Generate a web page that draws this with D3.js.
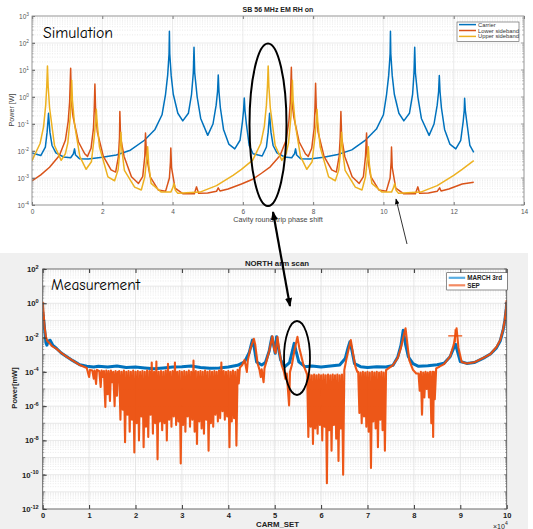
<!DOCTYPE html>
<html><head><meta charset="utf-8">
<script src="https://cdn.jsdelivr.net/npm/d3@7"></script>
<style>body{margin:0;background:#fff}svg{display:block}</style>
</head><body>
<svg id="c" width="533" height="529"></svg>
<script>
// ---------------- DATA: simulation (top) ----------------
const simTitle = "SB 56 MHz EM RH on";
const simXTicks = [0, 2, 4, 6, 8, 10, 12, 14];
const simYTicks = [1e-4, 1e-3, 1e-2, 1e-1, 1e0, 1e1, 1e2, 1e3];
const simLegend = ["Carrier", "Lower sideband", "Upper sideband"];

const carrier = [[0,8.5e-3],[0.25,6.8e-3],[0.38,1.4e-2],[0.43,5.0e-2],[0.46,0.16],[0.47,0.25],[0.48,0.16],[0.51,5.0e-2],[0.57,1.6e-2],[0.68,8.5e-3],[0.90,6.0e-3],[1.10,5.6e-3],[1.18,7.9e-3],[1.21,1.2e-2],[1.24,7.1e-3],[1.35,5.2e-3],[1.60,5.1e-3],[2.00,5.9e-3],[2.40,7.1e-3],[2.80,1.07e-2],[3.20,2.5e-2],[3.50,6.3e-2],[3.70,0.22],[3.80,1.26],[3.86,6.3],[3.90,40],[3.91,270],[3.92,40],[3.96,6.3],[4.02,1.26],[4.15,0.25],[4.29,0.13],[4.45,0.25],[4.54,1.26],[4.59,7.9],[4.61,69],[4.63,7.9],[4.70,1.0],[4.80,0.16],[5.00,3.8e-2],[5.15,0.10],[5.24,0.50],[5.28,1.6],[5.30,6.5],[5.32,1.6],[5.36,0.40],[5.45,6.3e-2],[5.60,1.8e-2],[5.77,1.2e-2],[5.92,2.5e-2],[5.99,0.126],[6.02,0.32],[6.04,0.91],[6.06,0.32],[6.10,0.10],[6.18,1.6e-2],[6.29,7.9e-3],
  [6.55,6.5e-3],[6.67,1.4e-2],[6.72,5.0e-2],[6.75,0.16],[6.76,0.25],[6.77,0.16],[6.80,5.0e-2],[6.86,1.6e-2],[6.97,8.5e-3],[7.19,6.0e-3],[7.39,5.6e-3],[7.47,7.9e-3],[7.50,1.2e-2],[7.53,7.1e-3],[7.64,5.2e-3],[7.90,5.1e-3],[8.30,5.9e-3],[8.70,7.4e-3],[9.10,1.1e-2],[9.50,2.6e-2],[9.80,6.5e-2],[10.00,0.22],[10.09,1.26],[10.15,6.3],[10.19,40],[10.20,270],[10.21,40],[10.25,6.3],[10.31,1.26],[10.44,0.25],[10.58,0.13],[10.74,0.25],[10.83,1.26],[10.87,7.9],[10.89,69],[10.91,7.9],[10.98,1.0],[11.08,0.16],[11.30,3.8e-2],[11.44,0.10],[11.53,0.50],[11.57,1.6],[11.59,6.3],[11.61,1.6],[11.65,0.40],[11.74,6.3e-2],[11.89,1.8e-2],[12.06,1.2e-2],[12.20,2.5e-2],[12.27,0.126],[12.30,0.32],[12.31,0.89],[12.33,0.32],[12.38,0.10],[12.46,1.6e-2],[12.57,8.9e-3]];

const lowerSB = [[0,7.8e-4],[0.25,1.3e-3],[0.50,2.5e-3],[0.78,6.8e-3],[0.95,2.5e-2],[1.03,0.126],[1.07,0.63],[1.10,11.5],[1.12,0.63],[1.17,0.18],[1.32,2.2e-2],[1.50,7.9e-3],[1.58,6.3e-3],[1.68,1.26e-2],[1.75,7.1e-2],[1.77,0.32],[1.79,3.0],[1.81,0.32],[1.86,5.0e-2],[2.03,6.3e-3],[2.25,2.0e-3],[2.38,1.66e-3],[2.46,6.3e-3],[2.49,3.2e-2],[2.50,0.29],[2.52,3.2e-2],[2.62,6.3e-3],[2.83,1.12e-3],[3.03,6.3e-4],[3.15,1.12e-3],[3.21,6.3e-3],[3.23,4.6e-2],[3.26,6.3e-3],[3.36,1.12e-3],[3.59,3.6e-4],[3.80,3.2e-4],[3.91,1.0e-3],[3.94,4.0e-3],[3.95,1.3e-2],[3.97,2.5e-3],[4.07,4.2e-4],[4.30,2.6e-4],[4.62,2.6e-4],[4.68,4.7e-4],[4.74,2.7e-4],[5.00,2.8e-4],[5.25,3.2e-4],[5.30,4.3e-4],[5.35,3.3e-4],[5.58,3.9e-4],[5.96,6.0e-4],[6.28,9.0e-4],
  [6.53,1.5e-3],[6.78,2.6e-3],[7.06,6.8e-3],[7.23,2.5e-2],[7.31,0.126],[7.35,0.63],[7.38,12.6],[7.40,0.63],[7.45,0.18],[7.60,2.2e-2],[7.78,7.9e-3],[7.86,6.3e-3],[7.96,1.26e-2],[8.03,7.1e-2],[8.05,0.32],[8.07,3.2],[8.09,0.32],[8.14,5.0e-2],[8.31,6.3e-3],[8.53,2.0e-3],[8.66,1.66e-3],[8.74,6.3e-3],[8.77,3.2e-2],[8.79,0.29],[8.81,3.2e-2],[8.90,6.3e-3],[9.11,1.12e-3],[9.31,6.3e-4],[9.43,1.12e-3],[9.49,6.3e-3],[9.52,4.6e-2],[9.54,6.3e-3],[9.64,1.12e-3],[9.87,3.6e-4],[10.08,3.2e-4],[10.19,1.0e-3],[10.22,4.0e-3],[10.23,1.4e-2],[10.25,2.5e-3],[10.35,4.2e-4],[10.58,2.6e-4],[10.91,2.6e-4],[10.98,4.7e-4],[11.03,2.7e-4],[11.28,2.8e-4],[11.53,3.2e-4],[11.60,4.3e-4],[11.64,3.3e-4],[11.86,3.9e-4],[12.24,6.0e-4],[12.57,7.0e-4]];

const upperSB = [[0,4.4e-3],[0.23,1.9e-2],[0.33,8.0e-2],[0.39,0.5],[0.42,2.5],[0.44,14],[0.46,2.5],[0.50,0.4],[0.64,1.6e-2],[0.83,4.5e-3],[0.95,7.9e-3],[1.02,2.0e-2],[1.09,0.2],[1.11,0.79],[1.13,4.2],[1.15,0.79],[1.21,0.1],[1.36,6.3e-3],[1.54,2.1e-3],[1.69,4.0e-3],[1.77,3.2e-2],[1.81,0.126],[1.83,0.35],[1.85,0.126],[1.92,1.4e-2],[2.16,1.1e-3],[2.35,7.9e-4],[2.45,2.0e-3],[2.50,1.0e-2],[2.53,5.0e-2],[2.56,1.0e-2],[2.63,1.9e-3],[2.92,4.6e-4],[3.11,3.6e-4],[3.21,1.1e-3],[3.26,5.0e-3],[3.29,1.45e-2],[3.32,3.2e-3],[3.39,6.3e-4],[3.68,3.0e-4],[3.95,3.0e-4],[4.01,4.5e-4],[4.04,6.3e-4],[4.08,3.5e-4],[4.15,2.7e-4],[4.78,3.0e-4],[5.25,5.2e-4],[5.72,1.26e-3],[5.96,2.1e-3],[6.28,4.6e-3],
  [6.51,1.9e-2],[6.61,8.0e-2],[6.67,0.5],[6.70,2.5],[6.72,14],[6.74,2.5],[6.78,0.4],[6.92,1.6e-2],[7.11,4.5e-3],[7.23,7.9e-3],[7.30,2.0e-2],[7.37,0.2],[7.39,0.79],[7.41,4.2],[7.43,0.79],[7.49,0.1],[7.64,6.3e-3],[7.82,2.1e-3],[7.97,4.0e-3],[8.05,3.2e-2],[8.09,0.126],[8.11,0.35],[8.13,0.126],[8.20,1.4e-2],[8.44,1.1e-3],[8.63,7.9e-4],[8.73,2.0e-3],[8.78,1.0e-2],[8.81,5.0e-2],[8.84,1.0e-2],[8.91,1.9e-3],[9.20,4.6e-4],[9.39,3.6e-4],[9.49,1.1e-3],[9.54,5.0e-3],[9.57,1.45e-2],[9.60,3.2e-3],[9.67,6.3e-4],[9.96,3.0e-4],[10.23,3.0e-4],[10.29,4.5e-4],[10.32,6.3e-4],[10.36,3.5e-4],[10.43,2.7e-4],[11.06,3.0e-4],[11.53,5.2e-4],[12.00,1.26e-3],[12.24,2.1e-3],[12.57,4.4e-3]];

// ---------------- DATA: measurement (bottom) ----------------
const measTitle = "NORTH arm scan";
const measXTicks = [0, 1, 2, 3, 4, 5, 6, 7, 8, 9, 10]; // x 10^4
const measYTicks = [1e-12, 1e-10, 1e-8, 1e-6, 1e-4, 1e-2, 1e0, 1e2];
const measLegend = ["MARCH 3rd", "SEP"];

const march3rd = [[0,0.32],[0.03,6.3e-2],[0.05,1.7e-2],[0.07,5.0e-3],[0.09,3.6e-3],[0.12,6.3e-3],[0.16,7.0e-3],[0.22,3.5e-3],[0.30,2.3e-3],[0.40,1.26e-3],[0.52,7.6e-4],[0.65,4.5e-4],[0.80,2.6e-4],[0.95,2.1e-4],[1.10,1.9e-4],[1.20,2.1e-4],[1.40,1.9e-4],[1.60,2.2e-4],[1.80,1.8e-4],[2.00,1.9e-4],[2.20,1.7e-4],[2.40,1.5e-4],[2.60,1.7e-4],[2.80,1.9e-4],[3.00,2.0e-4],[3.20,2.2e-4],[3.40,1.8e-4],[3.60,1.6e-4],[3.80,1.7e-4],[4.00,1.9e-4],[4.20,2.4e-4],[4.35,3.8e-4],[4.45,1.3e-3],[4.50,4.5e-3],[4.52,7.1e-3],[4.56,2.5e-3],[4.61,3.8e-4],[4.72,2.5e-4],[4.80,3.5e-4],[4.88,1.6e-3],[4.94,1.1e-2],[4.99,2.5e-3],[5.01,1.2e-3],[5.04,1.1e-2],[5.08,2.5e-3],[5.13,4.8e-4],[5.22,2.0e-4],[5.32,3.5e-4],[5.38,1.6e-3],[5.42,4.6e-3],[5.46,1.6e-3],[5.52,3.8e-4],[5.65,2.0e-4],[5.80,2.2e-4],[6.00,1.9e-4],[6.20,2.2e-4],[6.40,2.5e-4],[6.52,6.0e-4],[6.58,2.5e-3],[6.62,5.6e-3],[6.66,2.0e-3],[6.72,3.0e-4],[6.85,2.0e-4],[7.00,1.8e-4],[7.20,2.0e-4],[7.40,1.9e-4],[7.55,2.4e-4],[7.65,7.0e-4],[7.72,3.5e-3],[7.77,2.7e-2],[7.82,4.0e-3],[7.88,7.6e-4],[7.98,3.0e-4],[8.10,2.1e-4],[8.30,2.3e-4],[8.50,2.6e-4],[8.65,3.2e-4],[8.78,7.6e-4],[8.86,2.5e-3],[8.90,4.0e-3],[8.94,1.5e-3],[9.00,4.0e-4],[9.14,3.1e-4],[9.30,3.5e-4],[9.50,6.3e-4],[9.65,1.1e-3],[9.78,2.5e-3],[9.86,6.3e-3],[9.92,2.5e-2],[9.96,0.1],[9.99,0.5],[10.0,1.2]];

const sep = [[0,1.2],[0.02,0.25],[0.04,4.0e-2],[0.07,1.1e-2],[0.10,6.3e-3],[0.14,5.0e-3],[0.20,3.2e-3],[0.30,2.2e-3],[0.40,1.26e-3],[0.52,7.6e-4],[0.65,4.5e-4],[0.80,2.5e-4],[0.95,1.7e-4],
  [1.00,5.0e-5],[1.02,1.3e-4],[1.07,1.2e-4],[1.10,4.0e-5],[1.12,1.2e-4],[1.15,2.0e-5],[1.17,1.3e-4],[1.22,1.1e-4],[1.25,1.3e-5],[1.27,1.2e-4],[1.30,5.0e-5],[1.32,1.1e-4],[1.35,8.9e-7],[1.37,1.2e-4],[1.40,5.0e-6],[1.42,1.1e-4],[1.45,2.0e-6],[1.47,1.2e-4],[1.50,2.5e-5],[1.52,1.0e-4],[1.55,1.0e-6],[1.57,1.1e-4],[1.60,4.0e-6],[1.62,1.0e-4],
  [1.650,1.1e-4],[1.675,1.6e-7],[1.700,1.0e-4],[1.725,6.3e-7],[1.750,1.2e-4],[1.775,7.9e-9],[1.800,1.0e-4],[1.825,3.2e-7],[1.850,1.1e-4],[1.875,3.2e-8],[1.900,1.0e-4],[1.925,1.6e-7],[1.950,1.2e-4],[1.975,2.0e-9],[2.000,1.0e-4],[2.025,1.0e-7],[2.050,1.1e-4],[2.075,1.0e-8],[2.100,1.0e-4],[2.125,2.5e-7],[2.150,1.1e-4],[2.175,4.0e-9],[2.200,1.0e-4],[2.225,6.3e-8],[2.250,1.2e-4],[2.275,1.6e-8],[2.300,1.1e-4],[2.325,3.2e-7],[2.350,3.5e-4],[2.375,2.5e-8],[2.400,1.0e-4],[2.425,1.0e-7],[2.450,4.0e-4],[2.475,7.9e-10],[2.500,1.0e-4],[2.525,1.26e-7],[2.550,1.1e-4],[2.575,4.0e-8],[2.600,1.0e-4],[2.625,1.0e-7],[2.650,1.2e-4],[2.675,1.0e-8],[2.700,3.0e-4],[2.725,1.6e-7],[2.750,1.0e-4],[2.775,6.3e-8],[2.800,1.1e-4],[2.825,2.5e-7],[2.850,3.5e-4],[2.875,7.9e-8],[2.900,1.0e-4],[2.925,1.26e-7],[2.950,1.1e-4],[2.975,4.5e-10],[3.000,1.0e-4],[3.025,7.9e-8],[3.050,1.1e-4],[3.075,3.2e-8],[3.100,1.0e-4],[3.125,2.5e-7],[3.150,1.2e-4],[3.175,6.3e-8],[3.200,1.0e-4],[3.225,1.6e-7],[3.250,4.5e-4],[3.275,3.2e-8],[3.300,1.1e-4],[3.325,6.3e-9],[3.350,1.0e-4],[3.375,1.26e-7],[3.400,1.1e-4],[3.425,5.0e-8],[3.450,1.0e-4],[3.475,2.5e-8],[3.500,1.2e-4],[3.525,1.6e-7],[3.550,1.0e-4],[3.575,2.5e-9],[3.600,1.1e-4],[3.625,1.0e-7],[3.650,1.0e-4],[3.675,6.3e-8],[3.700,1.1e-4],[3.725,3.2e-7],[3.750,1.0e-4],[3.775,1.26e-7],[3.800,1.2e-4],[3.825,2.0e-7],[3.850,3.5e-4],[3.875,5.0e-7],[3.900,1.1e-4],[3.925,1.6e-7],[3.950,1.0e-4],[3.975,2.5e-7],[4.000,1.1e-4],[4.025,4.0e-9],[4.050,1.0e-4],[4.075,1.26e-7],[4.100,1.2e-4],[4.125,2.0e-7],[4.150,1.0e-4],[4.175,5.0e-9],[4.200,1.3e-4],[4.225,2.1e-5],[4.250,1.8e-4],
  [4.30,2.5e-4],[4.35,5.0e-4],[4.40,1.0e-4],[4.42,4.5e-4],[4.47,2.0e-3],[4.52,5.0e-3],[4.55,8.5e-3],[4.58,4.0e-3],[4.63,3.2e-4],[4.67,1.4e-4],[4.70,5.0e-5],[4.72,1.4e-4],[4.76,2.5e-5],[4.78,1.6e-4],[4.83,5.0e-4],[4.88,1.6e-3],[4.95,1.2e-2],[4.99,2.0e-3],[5.02,1.26e-3],[5.06,1.1e-2],[5.10,1.6e-3],[5.15,2.5e-4],[5.20,1.0e-4],[5.23,4.0e-5],[5.26,8.0e-5],[5.31,1.1e-6],[5.33,1.0e-4],[5.37,2.5e-4],[5.43,2.0e-3],[5.49,1.1e-2],[5.53,2.5e-3],[5.57,8.9e-4],[5.62,2.5e-4],[5.66,1.3e-4],
  [5.700,7.0e-5],[5.725,1.6e-8],[5.750,7.0e-5],[5.775,6.3e-8],[5.800,6.3e-5],[5.825,6.3e-9],[5.850,7.0e-5],[5.875,5.0e-8],[5.900,6.3e-5],[5.925,2.5e-8],[5.950,7.0e-5],[5.975,7.9e-8],[6.000,6.3e-5],[6.025,1.0e-8],[6.050,7.0e-5],[6.075,6.3e-8],[6.100,6.3e-5],[6.125,3.2e-11],[6.150,7.0e-5],[6.175,4.0e-8],[6.200,6.3e-5],[6.225,2.5e-9],[6.250,7.0e-5],[6.275,7.9e-8],[6.300,6.3e-5],[6.325,1.26e-8],[6.350,7.0e-5],[6.375,6.3e-10],[6.400,6.3e-5],[6.425,5.0e-8],[6.450,7.0e-5],[6.475,1.0e-10],[6.500,1.26e-4],
  [6.55,6.3e-4],[6.60,2.5e-3],[6.64,7.1e-3],[6.68,1.6e-3],[6.74,2.0e-4],[6.78,1.0e-4],
  [6.800,1.0e-4],[6.825,4.0e-7],[6.850,9.0e-5],[6.875,1.0e-7],[6.900,1.0e-4],[6.925,2.5e-7],[6.950,9.0e-5],[6.975,6.3e-8],[7.000,1.0e-4],[7.025,3.2e-8],[7.050,9.0e-5],[7.075,2.5e-10],[7.100,1.0e-4],[7.125,1.26e-7],[7.150,9.0e-5],[7.175,5.0e-8],[7.200,1.0e-4],[7.225,4.0e-9],[7.250,9.0e-5],[7.275,1.6e-7],[7.300,1.0e-4],[7.325,4.0e-8],[7.350,9.0e-5],[7.375,2.5e-9],[7.400,1.26e-4],
  [7.45,1.6e-4],[7.55,2.5e-4],[7.65,6.3e-4],[7.72,2.5e-3],[7.78,1.26e-2],[7.82,3.5e-2],[7.86,4.0e-3],[7.90,4.8e-4],[7.98,1.3e-4],[8.05,8.0e-5],
  [8.100,8.0e-5],[8.125,7.9e-6],[8.150,1.0e-4],[8.175,3.2e-7],[8.200,9.0e-5],[8.225,3.2e-6],[8.250,1.0e-4],[8.275,1.0e-5],[8.300,9.0e-5],[8.325,3.2e-6],[8.350,1.0e-4],[8.375,1.0e-7],[8.400,1.0e-4],[8.415,1.6e-8],[8.430,1.0e-4],[8.450,2.5e-6],[8.480,1.6e-4],
  [8.55,2.0e-4],[8.65,2.8e-4],[8.78,7.9e-4],[8.86,4.0e-3],[8.92,3.5e-2],[8.96,2.5e-3],[9.03,3.8e-4],[9.14,3.1e-4],[9.30,3.6e-4],[9.50,6.6e-4],[9.65,1.1e-3],[9.78,2.8e-3],[9.86,7.1e-3],[9.92,2.8e-2],[9.96,0.11],[9.99,0.63],[10.0,1.55]];

const sepMarker = [[8.89, 1.26e-2]];

// ---------------- DRAWING ----------------
const svg = d3.select("#c");
const FONT = "'Liberation Sans', Arial, Helvetica, sans-serif";
const COMIC = "'Comic Sans MS', 'Comic Neue', 'Noto Sans', sans-serif";
const C_BLUE = "#0072BD", C_RED = "#D95319", C_YEL = "#EDB120";
const C_SEP = "#EC4E0C";

function supLabels(g, size, supSize, weight, color) {
  g.selectAll(".tick text").each(function(d) {
    const t = d3.select(this);
    t.text("").attr("font-size", size).attr("font-weight", weight).attr("fill", color).attr("font-family", FONT);
    t.append("tspan").text("10");
    t.append("tspan").attr("dy", -0.45 * size).attr("font-size", supSize).text(String(Math.round(Math.log10(d))));
  });
}

function decadeList(lo, hi) {
  const out = [];
  for (let e = Math.round(Math.log10(lo)); e <= Math.round(Math.log10(hi)); e++) out.push(Math.pow(10, e));
  return out;
}

// ======== TOP: Simulation ========
(function() {
  const L = 32, R = 524, T = 16, B = 205;
  const x = d3.scaleLinear().domain([0, 14]).range([L, R]);
  const y = d3.scaleLog().domain([1e-4, 1e3]).range([B, T]);
  const g = svg.append("g");
  g.append("rect").attr("x", L).attr("y", T).attr("width", R - L).attr("height", B - T).attr("fill", "#fff");

  const decs = decadeList(1e-4, 1e3);
  decs.slice(0, -1).forEach(d => {
    for (let m = 2; m <= 9; m++) {
      g.append("line").attr("x1", L).attr("x2", R).attr("y1", y(m * d)).attr("y2", y(m * d))
        .attr("stroke", "#d4d4d4").attr("stroke-width", 0.5).attr("stroke-dasharray", "1,1.5");
    }
  });
  decs.forEach(d => g.append("line").attr("x1", L).attr("x2", R).attr("y1", y(d)).attr("y2", y(d))
    .attr("stroke", "#e2e2e2").attr("stroke-width", 0.7));
  simXTicks.forEach(t => g.append("line").attr("x1", x(t)).attr("x2", x(t)).attr("y1", T).attr("y2", B)
    .attr("stroke", "#e2e2e2").attr("stroke-width", 0.7));

  g.append("clipPath").attr("id", "clipTop").append("rect").attr("x", L).attr("y", T).attr("width", R - L).attr("height", B - T);
  const line = d3.line().x(d => x(d[0])).y(d => y(d[1]));
  const series = [[carrier, C_BLUE], [lowerSB, C_RED], [upperSB, C_YEL]];
  const lg = g.append("g").attr("clip-path", "url(#clipTop)");
  series.forEach(([data, col]) => lg.append("path").datum(data).attr("d", line)
    .attr("fill", "none").attr("stroke", col).attr("stroke-width", 1.5).attr("stroke-linejoin", "round"));

  const ax = g.append("g").attr("transform", `translate(0,${B})`)
    .call(d3.axisBottom(x).tickValues(simXTicks).tickSizeInner(-3).tickSizeOuter(0).tickPadding(4));
  ax.select(".domain").remove();
  ax.selectAll(".tick line").attr("stroke", "#777");
  ax.selectAll(".tick text").attr("font-size", 6.5).attr("font-family", FONT).attr("fill", "#555");
  const axT = g.append("g").attr("transform", `translate(0,${T})`)
    .call(d3.axisTop(x).tickValues(simXTicks).tickSizeInner(-3).tickSizeOuter(0).tickFormat(""));
  axT.select(".domain").remove(); axT.selectAll(".tick line").attr("stroke", "#777");

  const ay = g.append("g").attr("transform", `translate(${L},0)`)
    .call(d3.axisLeft(y).tickValues(simYTicks).tickSizeInner(-3).tickSizeOuter(0).tickPadding(3));
  ay.select(".domain").remove(); ay.selectAll(".tick line").attr("stroke", "#777");
  supLabels(ay, 6.5, 4.8, "normal", "#555");
  decs.slice(0, -1).forEach(d => {
    for (let m = 2; m <= 9; m++) {
      [[L, L + 1.8], [R, R - 1.8]].forEach(([a, b]) => g.append("line").attr("x1", a).attr("x2", b)
        .attr("y1", y(m * d)).attr("y2", y(m * d)).attr("stroke", "#888").attr("stroke-width", 0.5));
    }
    [[L, L + 3], [R, R - 3]].forEach(([a, b]) => g.append("line").attr("x1", a).attr("x2", b)
      .attr("y1", y(d)).attr("y2", y(d)).attr("stroke", "#777").attr("stroke-width", 0.6));
  });
  g.append("rect").attr("x", L).attr("y", T).attr("width", R - L).attr("height", B - T)
    .attr("fill", "none").attr("stroke", "#8a8a8a").attr("stroke-width", 0.8);

  g.append("text").attr("x", 278).attr("y", 12).attr("text-anchor", "middle").attr("font-family", FONT)
    .attr("font-size", 7).attr("font-weight", "bold").attr("fill", "#222").text(simTitle);
  g.append("text").attr("x", 278).attr("y", 221.5).attr("text-anchor", "middle").attr("font-family", FONT)
    .attr("font-size", 7.2).attr("fill", "#444").text("Cavity round-trip phase shift");
  g.append("text").attr("transform", "translate(13.5,110) rotate(-90)").attr("text-anchor", "middle")
    .attr("font-family", FONT).attr("font-size", 7.2).attr("fill", "#444").text("Power [W]");
  g.append("text").attr("x", 43).attr("y", 38).attr("font-family", COMIC).attr("font-size", 15)
    .attr("textLength", 70).attr("lengthAdjust", "spacingAndGlyphs").attr("fill", "#000").text("Simulation");

  const lx = 457, ly = 22;
  g.append("rect").attr("x", lx).attr("y", ly).attr("width", 62).attr("height", 19.5)
    .attr("fill", "#fff").attr("stroke", "#555").attr("stroke-width", 0.6);
  const cols = [C_BLUE, C_RED, C_YEL];
  simLegend.forEach((s, i) => {
    const yy = 24.6 + i * 5.9;
    g.append("line").attr("x1", lx + 2).attr("x2", lx + 19).attr("y1", yy).attr("y2", yy)
      .attr("stroke", cols[i]).attr("stroke-width", 1.5);
    g.append("text").attr("x", lx + 21).attr("y", yy + 2).attr("font-family", FONT).attr("font-size", 5.8)
      .attr("fill", "#333").text(s);
  });
})();

// ======== BOTTOM: Measurement ========
(function() {
  const L = 42.7, R = 506.7, T = 269, B = 509;
  const x = d3.scaleLinear().domain([0, 10]).range([L, R]);
  const y = d3.scaleLog().domain([1e-12, 1e2]).range([B, T]);
  const g = svg.append("g");
  g.append("rect").attr("x", 0).attr("y", 253).attr("width", 528).attr("height", 276).attr("fill", "#f0f0f0");
  g.append("rect").attr("x", L).attr("y", T).attr("width", R - L).attr("height", B - T).attr("fill", "#fff");

  const decs = decadeList(1e-12, 1e2);
  decs.slice(0, -1).forEach(d => {
    for (let m = 2; m <= 9; m++) {
      g.append("line").attr("x1", L).attr("x2", R).attr("y1", y(m * d)).attr("y2", y(m * d))
        .attr("stroke", "#d6d6d6").attr("stroke-width", 0.5).attr("stroke-dasharray", "1,1.5");
    }
  });
  decs.forEach(d => g.append("line").attr("x1", L).attr("x2", R).attr("y1", y(d)).attr("y2", y(d))
    .attr("stroke", "#dedede").attr("stroke-width", 0.7));
  measXTicks.forEach(t => g.append("line").attr("x1", x(t)).attr("x2", x(t)).attr("y1", T).attr("y2", B)
    .attr("stroke", "#dedede").attr("stroke-width", 0.7));

  g.append("clipPath").attr("id", "clipBot").append("rect").attr("x", L).attr("y", T).attr("width", R - L).attr("height", B - T);
  const line = d3.line().x(d => x(d[0])).y(d => y(d[1]));
  const lg = g.append("g").attr("clip-path", "url(#clipBot)");
  lg.append("path").datum(march3rd).attr("d", line).attr("fill", "none").attr("stroke", C_BLUE)
    .attr("stroke-width", 3).attr("stroke-linejoin", "round");
  lg.append("path").datum(sep).attr("d", line).attr("fill", "none").attr("stroke", C_SEP)
    .attr("stroke-width", 2.1).attr("stroke-linejoin", "round").attr("stroke-opacity", 0.95);
  sepMarker.forEach(d => {
    const cx = x(d[0]), cy = y(d[1]);
    lg.append("line").attr("x1", cx - 7).attr("x2", cx + 7).attr("y1", cy).attr("y2", cy).attr("stroke", C_SEP).attr("stroke-width", 1.3);
    lg.append("line").attr("x1", cx).attr("x2", cx).attr("y1", cy - 6.5).attr("y2", cy + 6.5).attr("stroke", C_SEP).attr("stroke-width", 1.3);
  });

  const ax = g.append("g").attr("transform", `translate(0,${B})`)
    .call(d3.axisBottom(x).tickValues(measXTicks).tickSizeInner(-4).tickSizeOuter(0).tickPadding(4));
  ax.select(".domain").remove(); ax.selectAll(".tick line").attr("stroke", "#333");
  ax.selectAll(".tick text").attr("font-size", 7.5).attr("font-weight", "bold").attr("font-family", FONT).attr("fill", "#222");
  const axT = g.append("g").attr("transform", `translate(0,${T})`)
    .call(d3.axisTop(x).tickValues(measXTicks).tickSizeInner(-4).tickSizeOuter(0).tickFormat(""));
  axT.select(".domain").remove(); axT.selectAll(".tick line").attr("stroke", "#333");

  const ay = g.append("g").attr("transform", `translate(${L},0)`)
    .call(d3.axisLeft(y).tickValues(measYTicks).tickSizeInner(-4).tickSizeOuter(0).tickPadding(4));
  ay.select(".domain").remove(); ay.selectAll(".tick line").attr("stroke", "#333");
  supLabels(ay, 7.8, 5.6, "bold", "#222");
  decs.forEach((d, i) => {
    if (i < decs.length - 1) for (let m = 2; m <= 9; m++) {
      [[L, L + 1.6], [R, R - 1.6]].forEach(([a, b]) => g.append("line").attr("x1", a).attr("x2", b)
        .attr("y1", y(m * d)).attr("y2", y(m * d)).attr("stroke", "#666").attr("stroke-width", 0.5));
    }
    [[L, L + 2.5], [R, R - 2.5]].forEach(([a, b]) => g.append("line").attr("x1", a).attr("x2", b)
      .attr("y1", y(d)).attr("y2", y(d)).attr("stroke", "#444").attr("stroke-width", 0.6));
  });
  g.append("rect").attr("x", L).attr("y", T).attr("width", R - L).attr("height", B - T)
    .attr("fill", "none").attr("stroke", "#555").attr("stroke-width", 0.8);

  g.append("text").attr("x", 277).attr("y", 265.5).attr("text-anchor", "middle").attr("font-family", FONT)
    .attr("font-size", 7.8).attr("font-weight", "bold").attr("fill", "#222").text(measTitle);
  g.append("text").attr("x", 277.5).attr("y", 527).attr("text-anchor", "middle").attr("font-family", FONT)
    .attr("font-size", 7.8).attr("font-weight", "bold").attr("fill", "#222").text("CARM_SET");
  const mul = g.append("text").attr("x", 493).attr("y", 528.5).attr("font-family", FONT)
    .attr("font-size", 7).attr("fill", "#222");
  mul.append("tspan").text("×10");
  mul.append("tspan").attr("dy", -3.5).attr("font-size", 5).text("4");
  g.append("text").attr("transform", "translate(17,388) rotate(-90)").attr("text-anchor", "middle")
    .attr("font-family", FONT).attr("font-size", 7.5).attr("font-weight", "bold").attr("fill", "#222").text("Power[mW]");
  g.append("text").attr("x", 51).attr("y", 289.5).attr("font-family", COMIC).attr("font-size", 15)
    .attr("textLength", 89).attr("lengthAdjust", "spacingAndGlyphs").attr("fill", "#000").text("Measurement");

  const lx = 446.7, ly = 272.7;
  g.append("rect").attr("x", lx).attr("y", ly).attr("width", 60.6).attr("height", 17.3)
    .attr("fill", "#fff").attr("stroke", "#444").attr("stroke-width", 0.6);
  const lcols = ["#5aaee3", "#f38a62"];
  measLegend.forEach((s, i) => {
    const yy = 277.8 + i * 7.5;
    g.append("line").attr("x1", lx + 2).attr("x2", lx + 18.5).attr("y1", yy).attr("y2", yy)
      .attr("stroke", lcols[i]).attr("stroke-width", 2.2);
    g.append("text").attr("x", lx + 20.5).attr("y", yy + 2.2).attr("font-family", FONT).attr("font-size", 6.3)
      .attr("font-weight", "bold").attr("fill", "#222").text(s);
  });
})();

// ======== Annotations ========
(function() {
  const defs = svg.append("defs");
  defs.append("marker").attr("id", "headBig").attr("viewBox", "0 0 10 8").attr("refX", 9).attr("refY", 4)
    .attr("markerWidth", 9).attr("markerHeight", 7.5).attr("markerUnits", "userSpaceOnUse")
    .attr("orient", "auto-start-reverse").append("path").attr("d", "M0,0 L10,4 L0,8 Z").attr("fill", "#000");
  defs.append("marker").attr("id", "headSmall").attr("viewBox", "0 0 10 8").attr("refX", 9).attr("refY", 4)
    .attr("markerWidth", 6).attr("markerHeight", 4.5).attr("markerUnits", "userSpaceOnUse")
    .attr("orient", "auto-start-reverse").append("path").attr("d", "M0,0 L10,4 L0,8 Z").attr("fill", "#000");
  const a = svg.append("g");
  a.append("ellipse").attr("cx", 268).attr("cy", 124.7).attr("rx", 18.5).attr("ry", 81.3)
    .attr("fill", "none").attr("stroke", "#000").attr("stroke-width", 2);
  a.append("ellipse").attr("cx", 297).attr("cy", 358).attr("rx", 13).attr("ry", 37)
    .attr("fill", "none").attr("stroke", "#000").attr("stroke-width", 1.8);
  a.append("line").attr("x1", 273).attr("y1", 212).attr("x2", 290).attr("y2", 306)
    .attr("stroke", "#000").attr("stroke-width", 2.2)
    .attr("marker-start", "url(#headBig)").attr("marker-end", "url(#headBig)");
  a.append("line").attr("x1", 407).attr("y1", 244).attr("x2", 396).attr("y2", 199)
    .attr("stroke", "#000").attr("stroke-width", 0.8).attr("marker-end", "url(#headSmall)");
})();
</script>
</body></html>
